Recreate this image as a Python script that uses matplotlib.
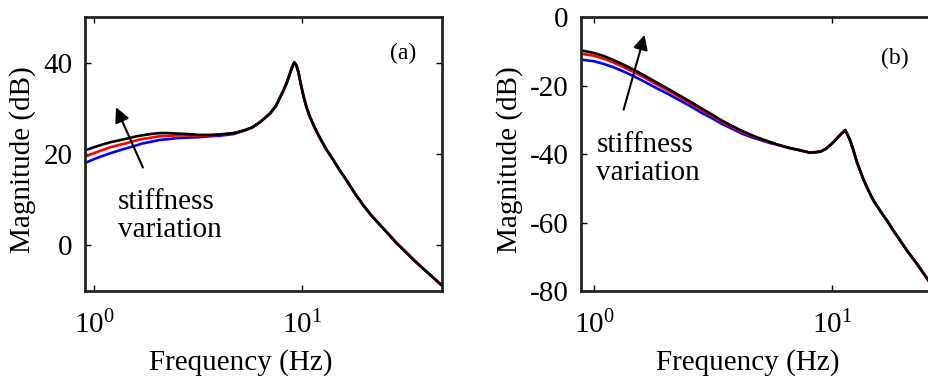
import numpy as np
import matplotlib.pyplot as plt
from matplotlib.ticker import LogLocator, NullLocator

plt.rcParams['font.family'] = ['Liberation Serif', 'DejaVu Serif']
plt.rcParams['mathtext.fontset'] = 'custom'
plt.rcParams['mathtext.rm'] = 'Liberation Serif'
plt.rcParams['mathtext.it'] = 'Liberation Serif:italic'
plt.rcParams['axes.unicode_minus'] = False
plt.rcParams['font.size'] = 21

# (a) values
freq_a = [0.9, 1.0, 1.1, 1.2, 1.32, 1.44, 1.57, 1.7, 1.88, 2.07, 2.3, 2.5, 2.8, 3.2, 3.6, 4.0,
          4.7, 5.3, 5.8, 6.28, 7.02, 7.5, 7.84, 8.15, 8.44, 8.7, 8.92, 9.18, 9.4, 9.6, 9.85,
          10.15, 10.5, 10.9, 11.5, 12.2, 13.1, 14.1, 15.2, 16.4, 18.0, 19.7, 21.6, 23.7,
          26.0, 28.5, 31.3, 34.3, 37.6, 41.2, 47.1]
high_a = [38.8, 40.1, 39.4, 38.0, 35.5, 32.8, 30.3, 28.2, 25.8, 23.5, 21.0, 18.8, 16.4, 14.2,
          11.3, 8.8, 6.5, 4.5, 2.5, 0.5, -1.3, -3.1, -4.8, -6.4, -8.8]
mid_a = [25.2, 25.9, 27.0, 28.9, 30.6, 32.4, 34.0, 35.6, 37.3]
black_a = [20.8, 21.5, 22.1, 22.6, 23.0, 23.4, 23.8, 24.1, 24.4, 24.6, 24.6, 24.5, 24.4, 24.2,
           24.2, 24.3, 24.6] + mid_a + high_a
red_a = [19.4, 20.2, 20.9, 21.5, 22.0, 22.4, 22.9, 23.3, 23.6, 23.9, 24.0, 24.1, 24.1, 24.0,
         24.1, 24.2, 24.6] + mid_a + high_a
blue_a = [18.0, 18.9, 19.6, 20.2, 20.8, 21.3, 21.8, 22.3, 22.7, 23.1, 23.3, 23.5, 23.6, 23.7,
          23.9, 24.0, 24.4] + mid_a + high_a

# (b)
freq_b = [0.88, 1.0, 1.1, 1.2, 1.32, 1.46, 1.62, 1.8, 2.05, 2.3, 2.55, 2.8, 3.1, 3.4, 3.8, 4.2,
          4.6, 5.0, 5.5, 6.0, 6.6, 7.34, 8.08, 8.9, 9.4, 9.8, 10.2, 10.6, 11.0, 11.35, 11.6,
          11.9, 12.3, 12.7, 13.5, 14.2, 14.9, 16.0, 17.0, 18.1, 19.3, 20.9, 22.7, 25.4, 27.0]
tail_b = [-37.4, -38.2, -38.9, -39.6, -39.3, -38.5, -37.4, -36.3, -35.0, -33.9, -33.0, -34.3,
          -36.0, -39.0, -42.3, -47.2, -50.6, -53.5, -56.8, -59.4, -62.4, -65.2, -68.7, -72.0,
          -76.9, -79.5]
black_b = [-9.7, -10.5, -11.4, -12.5, -13.8, -15.3, -17.0, -18.8, -21.0, -23.0, -24.8, -26.5,
           -28.3, -30.0, -31.8, -33.3, -34.5, -35.5, -36.5] + tail_b
red_b = [-10.7, -11.3, -12.2, -13.2, -14.5, -16.0, -17.6, -19.4, -21.5, -23.5, -25.3, -27.0,
         -28.7, -30.4, -32.1, -33.6, -34.7, -35.6, -36.6] + tail_b
blue_b = [-12.4, -12.9, -13.7, -14.6, -15.8, -17.2, -18.8, -20.5, -22.5, -24.4, -26.1, -27.8,
          -29.4, -31.0, -32.6, -34.1, -35.1, -35.9, -36.8] + tail_b

fig = plt.figure(figsize=(9.29, 3.8), dpi=100)
ax1 = fig.add_axes([0.0915, 0.234, 0.3843, 0.721])
ax2 = fig.add_axes([0.6254, 0.234, 0.380, 0.721])


def style(ax, xlim, ylim, yticks):
    ax.set_xscale('log')
    ax.set_xlim(xlim)
    ax.set_ylim(ylim)
    ax.set_yticks(yticks)
    ax.xaxis.set_major_locator(LogLocator(base=10, numticks=5))
    ax.xaxis.set_minor_locator(NullLocator())
    ax.tick_params(direction='in', top=True, right=True, length=4, width=1)
    ax.tick_params(axis='x', pad=14)
    ax.tick_params(axis='y', pad=9)
    for s in ax.spines.values():
        s.set_linewidth(2)
        s.set_color('#222222')
    ax.set_xlabel('Frequency (Hz)')
    ax.set_ylabel('Magnitude (dB)')


for ax, f, curves in [(ax1, freq_a, (blue_a, red_a, black_a)),
                      (ax2, freq_b, (blue_b, red_b, black_b))]:
    for c, col in zip(curves, ['blue', 'red', 'black']):
        ax.plot(f, c, color=col, lw=1.9)

style(ax1, (0.905, 47.1), (-10, 50), [0, 20, 40])
style(ax2, (0.88, 26.8), (-80, 0), [-80, -60, -40, -20, 0])

ax1.xaxis.set_label_coords(0.437, -0.212)
ax2.xaxis.set_label_coords(0.473, -0.212)
ax1.yaxis.set_label_coords(-0.138, 0.48)
ax2.yaxis.set_label_coords(-0.165, 0.48)

ax1.annotate('', xy=(1.26, 30.8), xytext=(1.74, 16.5),
             arrowprops=dict(arrowstyle='-|>', mutation_scale=22, lw=1.5, color='k'))
ax2.annotate('', xy=(1.64, -4.4), xytext=(1.32, -27.8),
             arrowprops=dict(arrowstyle='-|>', mutation_scale=22, lw=1.5, color='k'))

ax1.text(1.30, 6.5, 'stiffness\nvariation', ha='left', va='center', linespacing=1.1)
ax2.text(1.02, -41.5, 'stiffness\nvariation', ha='left', va='center', linespacing=1.1)

ax1.text(30.6, 42.1, '(a)', ha='center', va='center', fontsize=17)
ax2.text(18.4, -12, '(b)', ha='center', va='center', fontsize=17)

fig.savefig('out.png', dpi=100)
